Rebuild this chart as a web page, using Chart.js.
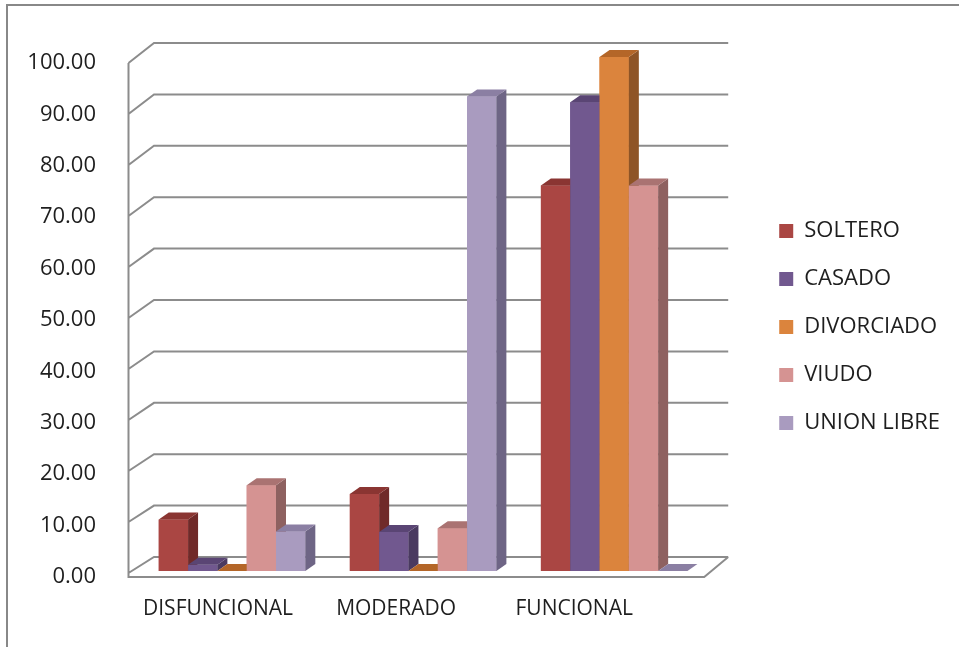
<!DOCTYPE html>
<html>
<head>
<meta charset="utf-8">
<script src="https://cdn.jsdelivr.net/npm/chart.js@4.4.0/dist/chart.umd.min.js"></script>
<style>
  html, body { margin: 0; padding: 0; background: #fff; }
  #wrap { width: 959px; height: 647px; }
</style>
</head>
<body>
<div id="wrap"><canvas id="chart" width="959" height="647"></canvas></div>
<script>
// data
const categories = ['DISFUNCIONAL', 'MODERADO', 'FUNCIONAL'];
const seriesNames = ['SOLTERO', 'CASADO', 'DIVORCIADO', 'VIUDO', 'UNION LIBRE'];
const soltero = [10.00, 15.00, 75.00];
const casado = [1.20, 7.60, 91.20];
const divorciado = [0.00, 0.00, 100.00];
const viudo = [16.67, 8.33, 75.00];
const unionLibre = [7.69, 92.31, 0.00];
const yTicks = [0, 10, 20, 30, 40, 50, 60, 70, 80, 90, 100];

// front / top / side shades of each column
const frontColors = ['#AA4643', '#71588F', '#DB843D', '#D59392', '#A99BBF'];
const topColors = ['#8A3532', '#5A4574', '#B46628', '#AA7372', '#8B7FA3'];
const sideColors = ['#702A29', '#4A3A60', '#8E5426', '#8E6160', '#6E6585'];

const DEPTH_X = 10;
const DEPTH_Y = -7;
const LINE = '#8c8c8c';
const TEXT = '#1e1e1e';

Chart.defaults.font.family = '"Open Sans", sans-serif';

// fake 3D: walls, floor, grid, column sides and tops
const box3d = {
    id: 'box3d',

    beforeDraw(chart) {
        const ctx = chart.ctx;
        ctx.save();
        ctx.strokeStyle = '#888';
        ctx.lineWidth = 2;
        ctx.strokeRect(7, 5, 1200, 1200);
        ctx.restore();
    },

    beforeDatasetsDraw(chart) {
        const ctx = chart.ctx;
        const ys = chart.scales.y;
        const { left, right } = chart.chartArea;
        const fx = left - 8;
        const bx = left + 17.5;
        const brx = right + 18.5;
        const frx = right - 5.5;
        const frontY = v => ys.getPixelForValue(v) + 2 + 0.04 * v;
        const backY = v => ys.getPixelForValue(v) - 14;

        ctx.save();
        ctx.strokeStyle = LINE;
        ctx.lineWidth = 2;
        ctx.beginPath();
        yTicks.forEach(v => {
            ctx.moveTo(fx, frontY(v));
            ctx.lineTo(bx, backY(v));
            ctx.lineTo(brx, backY(v));
        });
        // left axis and front edge of the floor
        ctx.moveTo(fx, frontY(yTicks[yTicks.length - 1]));
        ctx.lineTo(fx, frontY(0) + 4);
        ctx.lineTo(frx, frontY(0) + 4);
        ctx.lineTo(brx, backY(0));
        ctx.stroke();
        ctx.restore();
    },

    // go left to right so each column hides the side of the one before it
    afterDatasetsDraw(chart) {
        const ctx = chart.ctx;
        ctx.save();
        chart.data.datasets.forEach((ds, i) => {
            chart.getDatasetMeta(i).data.forEach(bar => {
                const { x, y, base, width } = bar.getProps(['x', 'y', 'base', 'width'], true);
                const l = x - width / 2;
                const r = x + width / 2;

                ctx.fillStyle = frontColors[i];
                ctx.fillRect(l, y, width, base - y);

                ctx.fillStyle = sideColors[i];
                ctx.beginPath();
                ctx.moveTo(r, y);
                ctx.lineTo(r + DEPTH_X, y + DEPTH_Y);
                ctx.lineTo(r + DEPTH_X, base + DEPTH_Y);
                ctx.lineTo(r, base);
                ctx.closePath();
                ctx.fill();

                ctx.fillStyle = topColors[i];
                ctx.beginPath();
                ctx.moveTo(l, y);
                ctx.lineTo(l + DEPTH_X, y + DEPTH_Y);
                ctx.lineTo(r + DEPTH_X, y + DEPTH_Y);
                ctx.lineTo(r, y);
                ctx.closePath();
                ctx.fill();
            });
        });
        ctx.restore();
    },

    afterDraw(chart) {
        // category labels sit on the front edge, so pull them toward the left
        const ctx = chart.ctx;
        const xs = chart.scales.x;
        const { left, bottom } = chart.chartArea;
        ctx.save();
        ctx.font = '21px "Open Sans", sans-serif';
        ctx.fillStyle = TEXT;
        ctx.textAlign = 'center';
        ctx.textBaseline = 'middle';
        categories.forEach((c, i) => {
            const px = xs.getPixelForValue(i);
            ctx.fillText(c, left - 7.5 + (px - left) * 0.932, bottom + 38);
        });
        ctx.restore();
    }
};

const seriesValues = [soltero, casado, divorciado, viudo, unionLibre];

new Chart(document.getElementById('chart'), {
    type: 'bar',
    data: {
        labels: categories,
        datasets: seriesNames.map((name, i) => ({
            label: name,
            data: seriesValues[i],
            backgroundColor: frontColors[i],
            borderWidth: 0,
            categoryPercentage: 0.767,
            barPercentage: 1.0
        }))
    },
    options: {
        responsive: false,
        animation: false,
        layout: { padding: { top: 57, bottom: 50, left: 0, right: 9 } },
        plugins: {
            tooltip: { enabled: false },
            legend: {
                position: 'right',
                align: 'center',
                maxWidth: 320,
                labels: {
                    boxWidth: 14,
                    boxHeight: 14,
                    padding: 26,
                    color: TEXT,
                    font: { size: 22 }
                }
            }
        },
        scales: {
            x: {
                grid: { display: false },
                border: { display: false },
                ticks: { display: false },
                afterFit: s => { s.height = 26; }
            },
            y: {
                min: 0,
                max: 100,
                grid: { display: false },
                border: { display: false },
                afterBuildTicks: s => { s.ticks = yTicks.map(v => ({ value: v })); },
                ticks: {
                    color: TEXT,
                    font: { size: 22 },
                    padding: 32.5,
                    labelOffset: 6,
                    callback: v => Number(v).toFixed(2)
                },
                afterFit: s => { s.width = 136.5; }
            },
            // empty spacer between the plot and the legend
            gap: {
                position: 'right',
                display: true,
                grid: { display: false },
                border: { display: false },
                ticks: { display: false },
                afterFit: s => { s.width = 43.5; }
            }
        }
    },
    plugins: [box3d]
});
</script>
</body>
</html>
